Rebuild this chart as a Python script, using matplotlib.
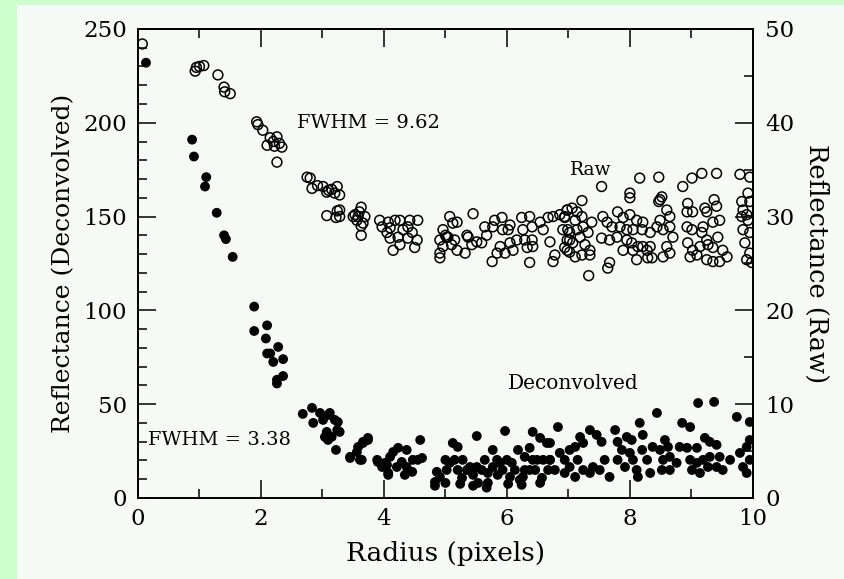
import numpy as np
import matplotlib
matplotlib.use('Agg')
import matplotlib.pyplot as plt
from matplotlib.patches import Rectangle
from matplotlib.ticker import MultipleLocator

# raw profile (right axis)
raw_r = [0.07, 0.93, 0.95, 1.00, 1.07, 1.30, 1.40, 1.41, 1.50, 1.93, 1.95, 2.03, 2.10, 2.15, 2.20,
         2.22, 2.26, 2.30, 2.34, 2.26, 2.75, 2.80, 2.83, 2.92, 3.01, 3.07, 3.10, 3.15, 3.20, 3.24,
         3.07, 3.24, 3.22, 3.28, 3.28, 3.28, 3.50, 3.53, 3.58, 3.63, 3.69, 3.63, 3.63, 3.60, 3.56,
         3.66,
         3.93, 3.97, 4.07, 4.10, 4.18, 4.26, 4.05, 4.10, 4.23, 4.26, 4.15, 4.31, 4.39, 4.42, 4.55,
         4.46, 4.54, 4.39, 4.50, 5.07, 5.12, 5.19, 4.96, 5.02, 4.91, 4.96, 4.91, 4.91, 5.10, 5.19,
         5.15, 5.04, 5.00, 5.45,
         5.35, 5.37, 5.32, 5.43, 5.51, 5.59, 5.64, 5.67, 5.77, 5.80, 5.92, 5.93, 5.84, 5.76, 5.89,
         5.97, 6.02, 6.05, 6.10, 6.16, 6.05, 6.24, 6.26, 6.37, 6.41, 6.29, 6.41, 6.33, 6.42, 6.37,
         6.54, 6.59, 6.67, 6.75, 6.70, 6.78, 6.75, 6.86, 6.94, 6.98, 6.99, 7.02, 6.98,
         7.54, 7.22, 8.16, 8.47, 8.00, 8.00, 8.52, 8.47, 8.86, 9.01, 9.17, 9.41, 9.79, 9.95,
         8.94, 8.93, 9.02, 9.22, 9.25, 9.37, 9.41, 9.82, 9.92, 9.95, 9.84, 9.90,
         6.98, 7.06, 7.14, 7.22, 7.38, 6.94, 7.11, 6.91, 7.02, 7.14, 7.24, 7.32, 6.98, 7.07, 7.19,
         7.27, 7.35, 6.94, 7.11, 7.02, 7.22, 7.35, 7.33, 7.67, 7.64,
         7.56, 7.80, 7.63, 7.71, 7.89, 8.00, 8.11, 8.21, 7.84, 7.95, 8.05, 8.20, 7.54, 7.67, 7.79,
         7.95, 8.03, 8.13, 7.89, 8.05, 8.21, 8.11, 8.29, 8.28,
         8.49, 8.60, 8.49, 8.65, 8.44, 8.54, 8.65, 8.70, 8.33, 8.60, 8.65, 8.54, 8.33, 8.36,
         8.93, 9.01, 9.19, 9.35, 9.46, 9.17, 9.25, 9.43, 8.94, 9.02, 9.14, 9.27, 9.35, 8.98, 9.09,
         9.25, 9.35, 9.51, 9.58, 9.46,
         9.82, 9.92, 9.84, 9.95, 9.87, 9.95, 9.90, 9.98]
raw_val = [48.4, 45.5, 45.9, 46.0, 46.1, 45.1, 43.8, 43.3, 43.1, 40.1, 39.8, 39.2, 37.6, 38.4, 38.0,
           37.5, 38.5, 37.8, 37.4, 35.8, 34.2, 34.1, 33.0, 33.3, 33.2, 32.6, 32.8, 32.9, 32.5, 33.2,
           30.1, 30.6, 29.9, 32.3, 30.7, 30.0, 30.0, 30.2, 30.0, 31.0, 30.0, 29.0, 28.0, 30.5, 29.6,
           29.3,
           29.6, 28.9, 29.4, 28.8, 29.6, 29.6, 28.3, 27.7, 27.8, 27.0, 26.4, 28.6, 28.9, 29.6, 29.6,
           28.3, 27.5, 27.7, 26.7, 30.0, 29.3, 29.4, 28.6, 27.8, 27.5, 26.8, 26.1, 25.6, 27.0, 26.4,
           27.5, 27.8, 28.0, 30.3,
           28.0, 27.8, 26.1, 27.0, 27.3, 27.2, 28.9, 28.0, 28.9, 29.6, 29.9, 28.6, 26.1, 25.2, 26.8,
           26.1, 28.6, 29.1, 26.4, 27.5, 27.2, 29.9, 28.6, 30.0, 28.9, 27.5, 27.5, 26.7, 26.8, 25.1,
           29.4, 28.6, 29.9, 30.0, 27.3, 25.9, 25.2, 30.2, 29.9, 30.7, 28.6, 27.5, 26.4,
           33.2, 31.7, 34.1, 34.2, 32.5, 32.0, 32.1, 31.6, 33.2, 34.1, 34.6, 34.6, 34.5, 34.2,
           31.4, 30.5, 30.5, 30.9, 30.5, 31.8, 31.1, 31.6, 32.5, 31.6, 30.7, 30.2,
           30.7, 30.9, 30.5, 30.0, 29.4, 30.0, 29.6, 28.6, 28.3, 28.6, 28.9, 28.3, 27.5, 27.2, 27.8,
           27.0, 26.4, 26.7, 25.7, 26.2, 25.9, 25.9, 23.7, 25.1, 24.5,
           30.0, 30.5, 29.4, 28.9, 29.9, 30.2, 29.6, 29.4, 28.9, 28.6, 28.6, 28.6, 27.7, 27.5, 27.8,
           27.5, 27.2, 26.8, 26.4, 26.4, 26.8, 25.4, 25.6, 26.4,
           31.8, 30.7, 29.6, 30.0, 28.9, 28.6, 28.9, 27.8, 28.3, 26.8, 26.1, 25.7, 26.8, 25.6,
           28.9, 28.6, 28.9, 29.4, 29.6, 28.3, 27.5, 27.8, 27.2, 26.4, 26.8, 27.0, 26.7, 25.7, 25.9,
           25.4, 25.2, 26.4, 25.7, 25.2,
           30.0, 29.6, 28.6, 28.3, 27.2, 26.1, 25.4, 25.1]

# deconvolved profile (left axis)
dec_r = [0.13, 0.88, 0.91, 1.11, 1.09, 1.28, 1.40, 1.43, 1.54, 1.89, 1.89, 2.10, 2.08, 2.28, 2.10,
         2.15, 2.20, 2.36, 2.36, 2.26, 2.26,
         2.83, 2.68, 2.96, 3.09, 2.85, 3.01, 3.25, 3.28, 3.07, 3.04, 3.09, 3.22, 3.45, 3.61, 3.58,
         3.66, 3.74, 3.56, 3.90, 4.05, 4.07, 3.12, 3.20, 3.24, 3.15, 3.45, 3.66, 3.74, 3.64,
         3.89, 3.97, 4.02, 4.10, 4.15, 4.23, 4.37, 4.59, 4.07, 4.21, 4.29, 4.37, 4.34, 4.47, 4.55,
         4.46, 4.62,
         5.12, 5.20, 5.51, 5.97, 4.86, 4.91, 4.83, 5.00, 5.07, 5.02, 5.15, 5.20, 5.28, 5.35, 5.27,
         5.40, 5.51, 5.45, 5.59, 5.64, 5.69, 5.77, 5.84, 5.77, 5.89, 5.93, 5.69, 5.53, 5.85, 6.00,
         6.08, 6.13, 6.05, 6.18, 6.29, 6.37, 6.42, 6.29, 6.37, 6.49, 6.46, 6.26, 6.21, 6.42, 6.54,
         6.65, 6.59, 6.70, 6.67, 6.57, 6.78, 6.83, 6.86,
         4.83, 5.00, 5.24, 5.45, 5.67, 6.02, 6.24, 6.54,
         6.70, 6.70, 6.94, 7.02, 7.11, 7.19, 7.24, 7.15, 7.02, 6.94, 7.11, 7.24, 7.35, 7.46, 7.54,
         7.59, 7.51, 7.40, 7.35, 7.67, 7.76, 7.80, 7.87, 7.80, 7.95, 8.03, 8.00, 8.05, 7.92, 8.11,
         8.16, 8.21, 8.20, 8.28, 8.13, 8.33, 8.44, 8.37, 8.49, 8.57, 8.62, 8.54, 8.65, 8.52, 8.65,
         8.76, 8.85, 8.98, 8.81, 8.93, 9.09, 9.22, 9.30, 9.41, 9.11, 9.37, 8.98, 9.09, 9.19, 9.30,
         9.46, 9.01, 9.14, 9.27, 9.41, 9.51, 9.63, 9.74, 9.95, 9.79, 9.90, 9.95, 9.84, 9.95, 9.90]
dec_val = [232, 191, 182, 171, 166, 152, 140, 138, 128.5, 102, 89, 92, 85, 80.5, 77,
           77, 72.5, 74, 65, 63, 61,
           48.0, 44.8, 45.3, 44.2, 40.0, 41.6, 40.5, 35.2, 35.2, 32.5, 30.9, 25.6, 21.3, 20.3, 27.2,
           29.3, 30.9, 24.5, 19.2, 17.6, 13.3, 45.3, 41.6, 36.2, 32.5, 21.9, 29.9, 32.0, 20.3,
           20.3, 16.5, 18.7, 21.9, 24.5, 26.7, 25.6, 30.9, 12.3, 16.5, 19.2, 16.5, 12.3, 20.3, 20.3,
           13.9, 21.3,
           29.3, 27.2, 33.0, 35.7, 13.9, 11.2, 8.5, 20.3, 18.7, 14.9, 20.3, 14.9, 20.3, 14.9, 10.7,
           16.5, 16.5, 12.3, 14.9, 20.3, 13.3, 25.6, 20.3, 16.5, 18.7, 14.9, 8.0, 8.0, 12.3, 20.3,
           18.7, 14.9, 11.2, 25.6, 21.9, 26.7, 20.3, 14.9, 14.9, 20.3, 14.9, 11.2, 9.6, 35.2, 32.0,
           29.3, 20.3, 20.3, 14.9, 10.7, 14.9, 37.8, 24.0,
           6.5, 8.0, 7.5, 6.5, 5.5, 7.5, 7.0, 8.0,
           29.3, 20.3, 20.3, 25.6, 27.2, 32.5, 29.3, 20.3, 16.5, 13.3, 11.2, 14.9, 36.2, 33.6, 29.9,
           20.3, 14.9, 16.5, 13.3, 11.2, 36.2, 29.9, 25.6, 20.3, 32.5, 30.9, 24.0, 20.3, 16.5, 14.9,
           40.0, 33.6, 25.6, 20.3, 11.2, 13.3, 45.3, 27.2, 25.6, 30.9, 27.2, 20.3, 21.9, 14.9, 14.9,
           18.7, 40.0, 37.8, 27.2, 26.7, 26.7, 32.0, 29.9, 28.3, 50.6, 51.2, 20.3, 18.7, 20.3, 21.9,
           21.9, 14.9, 13.3, 16.5, 16.5, 14.9, 20.3, 43.2, 40.5, 24.0, 27.2, 30.9, 16.5, 20.3, 13.3]

plt.rcParams['font.family'] = ['DejaVu Serif']

fig = plt.figure(figsize=(8.44, 5.79), dpi=100, facecolor='#ccffcc')
# off-white panel behind the plot
fig.patches.append(Rectangle((0.020, 0), 0.98, 0.991, transform=fig.transFigure,
                             facecolor='#f6faf6', edgecolor='none', zorder=-10))
ax = fig.add_axes([0.1635, 0.140, 0.7285, 0.810])
ax.set_facecolor('#f6faf6')
ax2 = ax.twinx()

ax.scatter(dec_r, dec_val, s=50, c='black', edgecolors='none', zorder=3)
ax2.scatter(raw_r, raw_val, s=50, facecolors='none', edgecolors='black', linewidths=1.1, zorder=3)

ax.set_xlim(0, 10)
ax.set_ylim(0, 250)
ax2.set_ylim(0, 50)

ax.xaxis.set_major_locator(MultipleLocator(2))
ax.xaxis.set_minor_locator(MultipleLocator(1))
ax.yaxis.set_major_locator(MultipleLocator(50))
ax.yaxis.set_minor_locator(MultipleLocator(10))
ax2.yaxis.set_major_locator(MultipleLocator(10))
ax2.yaxis.set_minor_locator(MultipleLocator(5))

ax.tick_params(axis='x', which='both', direction='in', top=True, labelsize=16.5, pad=7)
ax.tick_params(axis='y', which='both', direction='in', labelsize=16.5, pad=8)
ax2.tick_params(axis='y', which='both', direction='in', labelsize=16.5, pad=9)
for a in (ax, ax2):
    a.tick_params(which='major', length=13, width=1.1)
    a.tick_params(which='minor', length=6.5, width=1.1)
    for sp in a.spines.values():
        sp.set_linewidth(1.3)

ax.set_xlabel('Radius (pixels)', fontsize=19, labelpad=8)
ax.set_ylabel('Reflectance (Deconvolved)', fontsize=18, labelpad=6)
ax2.set_ylabel('Reflectance (Raw)', fontsize=18.5, rotation=-90, labelpad=25)

ax.text(2.59, 200, 'FWHM = 9.62', fontsize=14, va='center')
ax.text(0.16, 31, 'FWHM = 3.38', fontsize=14, va='center')
ax.text(7.02, 175, 'Raw', fontsize=13.5, va='center')
ax.text(6.02, 61, 'Deconvolved', fontsize=14.5, va='center')

fig.savefig('out.png', dpi=100, facecolor=fig.get_facecolor())
